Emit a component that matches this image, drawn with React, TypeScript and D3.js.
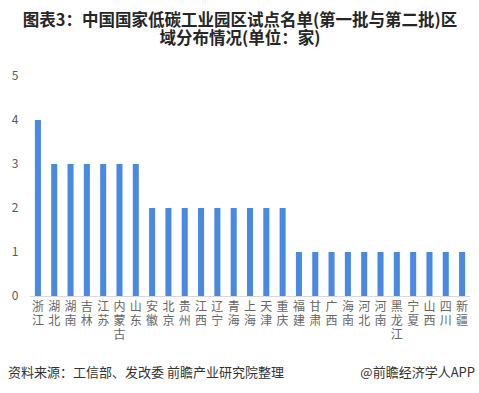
import React, { useEffect, useRef } from 'react';
import * as d3 from 'd3';

const provinces = [
  '浙江', '湖北', '湖南', '吉林', '江苏', '内蒙古', '山东',
  '安徽', '北京', '贵州', '江西', '辽宁', '青海', '上海', '天津', '重庆',
  '福建', '甘肃', '广西', '海南', '河北', '河南', '黑龙江', '宁夏', '山西', '四川', '新疆',
];
const counts = [
  4, 3, 3, 3, 3, 3, 3,
  2, 2, 2, 2, 2, 2, 2, 2, 2,
  1, 1, 1, 1, 1, 1, 1, 1, 1, 1, 1,
];
const yTicks = [0, 1, 2, 3, 4, 5];

const FONT = "'Noto Sans CJK SC', 'Microsoft YaHei', sans-serif";

const App: React.FC = () => {
  const ref = useRef<SVGSVGElement>(null);

  useEffect(() => {
    const svg = d3.select(ref.current!);
    svg.selectAll('*').remove();

    const W = 479;
    const H = 393;
    svg.attr('width', W).attr('height', H);

    svg.append('rect').attr('width', W).attr('height', H).attr('fill', '#fff');

    // title
    const title = svg
      .append('text')
      .attr('text-anchor', 'middle')
      .attr('font-family', FONT)
      .attr('font-weight', 'bold')
      .attr('font-size', 16.5)
      .attr('fill', '#262626');
    title.append('tspan').attr('x', 240).attr('y', 26).text('图表3：中国国家低碳工业园区试点名单(第一批与第二批)区');
    title.append('tspan').attr('x', 240).attr('y', 44).text('域分布情况(单位：家)');

    const data = provinces.map((p, i) => ({ p, v: counts[i] }));

    const x = d3.scaleBand<string>().domain(provinces).range([30, 470]).paddingInner(0.63).paddingOuter(0.3);
    const y = d3.scaleLinear().domain([0, 5]).range([296, 76]);

    // y labels
    svg
      .append('g')
      .selectAll('text')
      .data(yTicks)
      .enter()
      .append('text')
      .attr('x', 15)
      .attr('y', (d) => y(d))
      .attr('dy', '0.35em')
      .attr('text-anchor', 'middle')
      .attr('font-family', FONT)
      .attr('font-size', 12)
      .attr('fill', '#595959')
      .text((d) => d);

    // bars
    svg
      .append('g')
      .selectAll('rect')
      .data(data)
      .enter()
      .append('rect')
      .attr('x', (d) => x(d.p)!)
      .attr('y', (d) => y(d.v))
      .attr('width', x.bandwidth())
      .attr('height', (d) => y(0) - y(d.v))
      .attr('fill', '#4a89e2');

    // axis line
    svg
      .append('line')
      .attr('x1', 30)
      .attr('x2', 470)
      .attr('y1', y(0) + 0.5)
      .attr('y2', y(0) + 0.5)
      .attr('stroke', '#d9d9d9');

    // vertical x labels, one char per text
    const chars = data.flatMap((d) =>
      Array.from(d.p).map((ch, j) => ({ ch, j, cx: x(d.p)! + x.bandwidth() / 2 }))
    );
    svg
      .append('g')
      .selectAll('text')
      .data(chars)
      .enter()
      .append('text')
      .attr('x', (d) => d.cx)
      .attr('y', (d) => 311 + d.j * 14)
      .attr('text-anchor', 'middle')
      .attr('font-family', FONT)
      .attr('font-size', 12)
      .attr('fill', '#666')
      .text((d) => d.ch);

    // footer
    svg
      .append('text')
      .attr('x', 8)
      .attr('y', 377)
      .attr('font-family', FONT)
      .attr('font-size', 13)
      .attr('fill', '#333')
      .text('资料来源：工信部、发改委 前瞻产业研究院整理');
    svg
      .append('text')
      .attr('x', 475)
      .attr('y', 377)
      .attr('text-anchor', 'end')
      .attr('font-family', FONT)
      .attr('font-size', 13)
      .attr('fill', '#333')
      .text('@前瞻经济学人APP');
  }, []);

  return <svg ref={ref} style={{ display: 'block', position: 'absolute', left: 0, top: 0 }} />;
};

export default App;
